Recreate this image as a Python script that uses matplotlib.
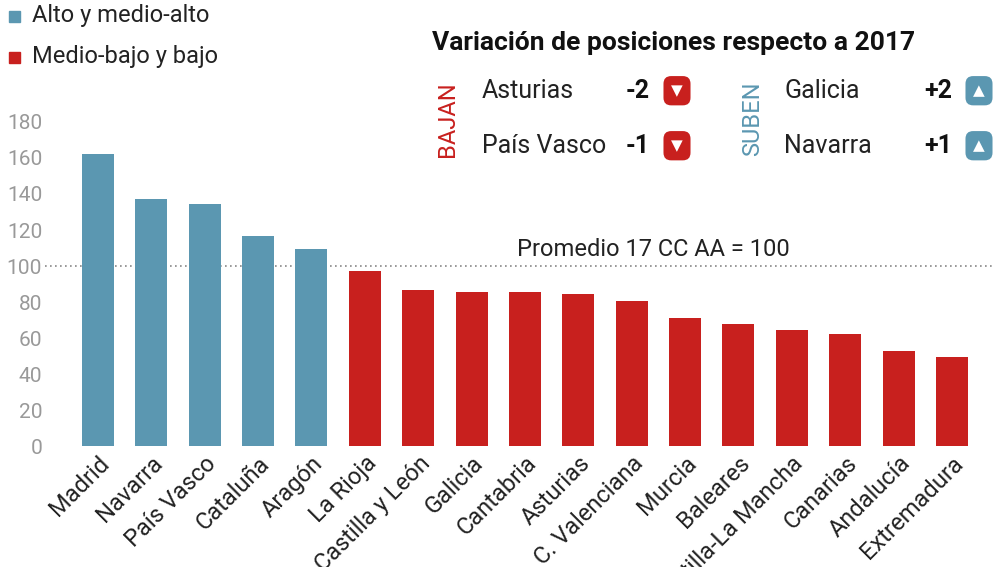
import matplotlib
matplotlib.use("Agg")
import matplotlib.pyplot as plt
from matplotlib.patches import Rectangle

regions = ["Madrid", "Navarra", "País Vasco", "Cataluña", "Aragón", "La Rioja",
           "Castilla y León", "Galicia", "Cantabria", "Asturias", "C. Valenciana",
           "Murcia", "Baleares", "Castilla-La Mancha", "Canarias", "Andalucía",
           "Extremadura"]
values = [162, 137, 134.5, 116.5, 109.5, 97, 86.7, 85.6, 85.6, 84.5, 80.5,
          71, 67.8, 64.4, 62.2, 52.8, 49.4]
n_high = 5
yticks = [0, 20, 40, 60, 80, 100, 120, 140, 160, 180]

BLUE = "#5b97b1"
RED = "#c8201e"
plt.rcParams["font.family"] = ["Liberation Sans Narrow", "Roboto", "DejaVu Sans"]

fig = plt.figure(figsize=(10, 5.67), dpi=100)
ax = fig.add_axes([0.045, 0.213, 0.948, 0.572])
colors = [BLUE] * n_high + [RED] * (len(values) - n_high)
x = range(len(values))
ax.bar(x, values, width=0.6, color=colors)
ax.set_xlim(-0.993, 16.77)
ax.set_ylim(0, 180)
ax.set_yticks(yticks)
ax.tick_params(axis="y", length=0, labelsize=15, labelcolor="#999999", pad=2)
ax.set_xticks(list(x))
ax.set_xticklabels(regions, rotation=45, ha="right", rotation_mode="anchor",
                   fontsize=17, color="#222222")
ax.tick_params(axis="x", length=0, pad=4)
for s in ax.spines.values():
    s.set_visible(False)
ax.axhline(100, color="#888888", lw=1.2, ls=(0, (1, 2)), zorder=0)
ax.text(10.4, 103, "Promedio 17 CC AA = 100", ha="center", va="bottom",
        fontsize=17, color="#222222")

# legend
for yy, c, lab in [(0.972, BLUE, "Alto y medio-alto"), (0.90, RED, "Medio-bajo y bajo")]:
    fig.patches.append(Rectangle((0.009, yy - 0.011), 0.011, 0.02, color=c,
                                 transform=fig.transFigure))
    fig.text(0.032, yy, lab, fontsize=17, va="center", color="#222222")

fig.text(0.432, 0.925, "Variación de posiciones respecto a 2017", fontsize=19,
         fontweight="bold", va="center", color="#111111")
fig.text(0.447, 0.79, "BAJAN", rotation=90, fontsize=17, color=RED, ha="center", va="center")
fig.text(0.753, 0.79, "SUBEN", rotation=90, fontsize=17, color=BLUE, ha="center", va="center")
rows = [(0.482, "Asturias", "-2", RED, "▼"), (0.482, "País Vasco", "-1", RED, "▼"),
        (0.784, "Galicia", "+2", BLUE, "▲"), (0.784, "Navarra", "+1", BLUE, "▲")]
for i, (xx, name, chg, c, tri) in enumerate(rows):
    yy = 0.84 if i % 2 == 0 else 0.743
    fig.text(xx, yy, name, fontsize=18, va="center", color="#222222")
    fig.text(xx + 0.168, yy, chg, fontsize=18, fontweight="bold", va="center",
             ha="right", color="#111111")
    fig.text(xx + 0.195, yy, tri, fontsize=11, va="center", ha="center", color="white",
             bbox=dict(boxstyle="round,pad=0.5", fc=c, ec="none"))

fig.savefig("out.png", dpi=100)
